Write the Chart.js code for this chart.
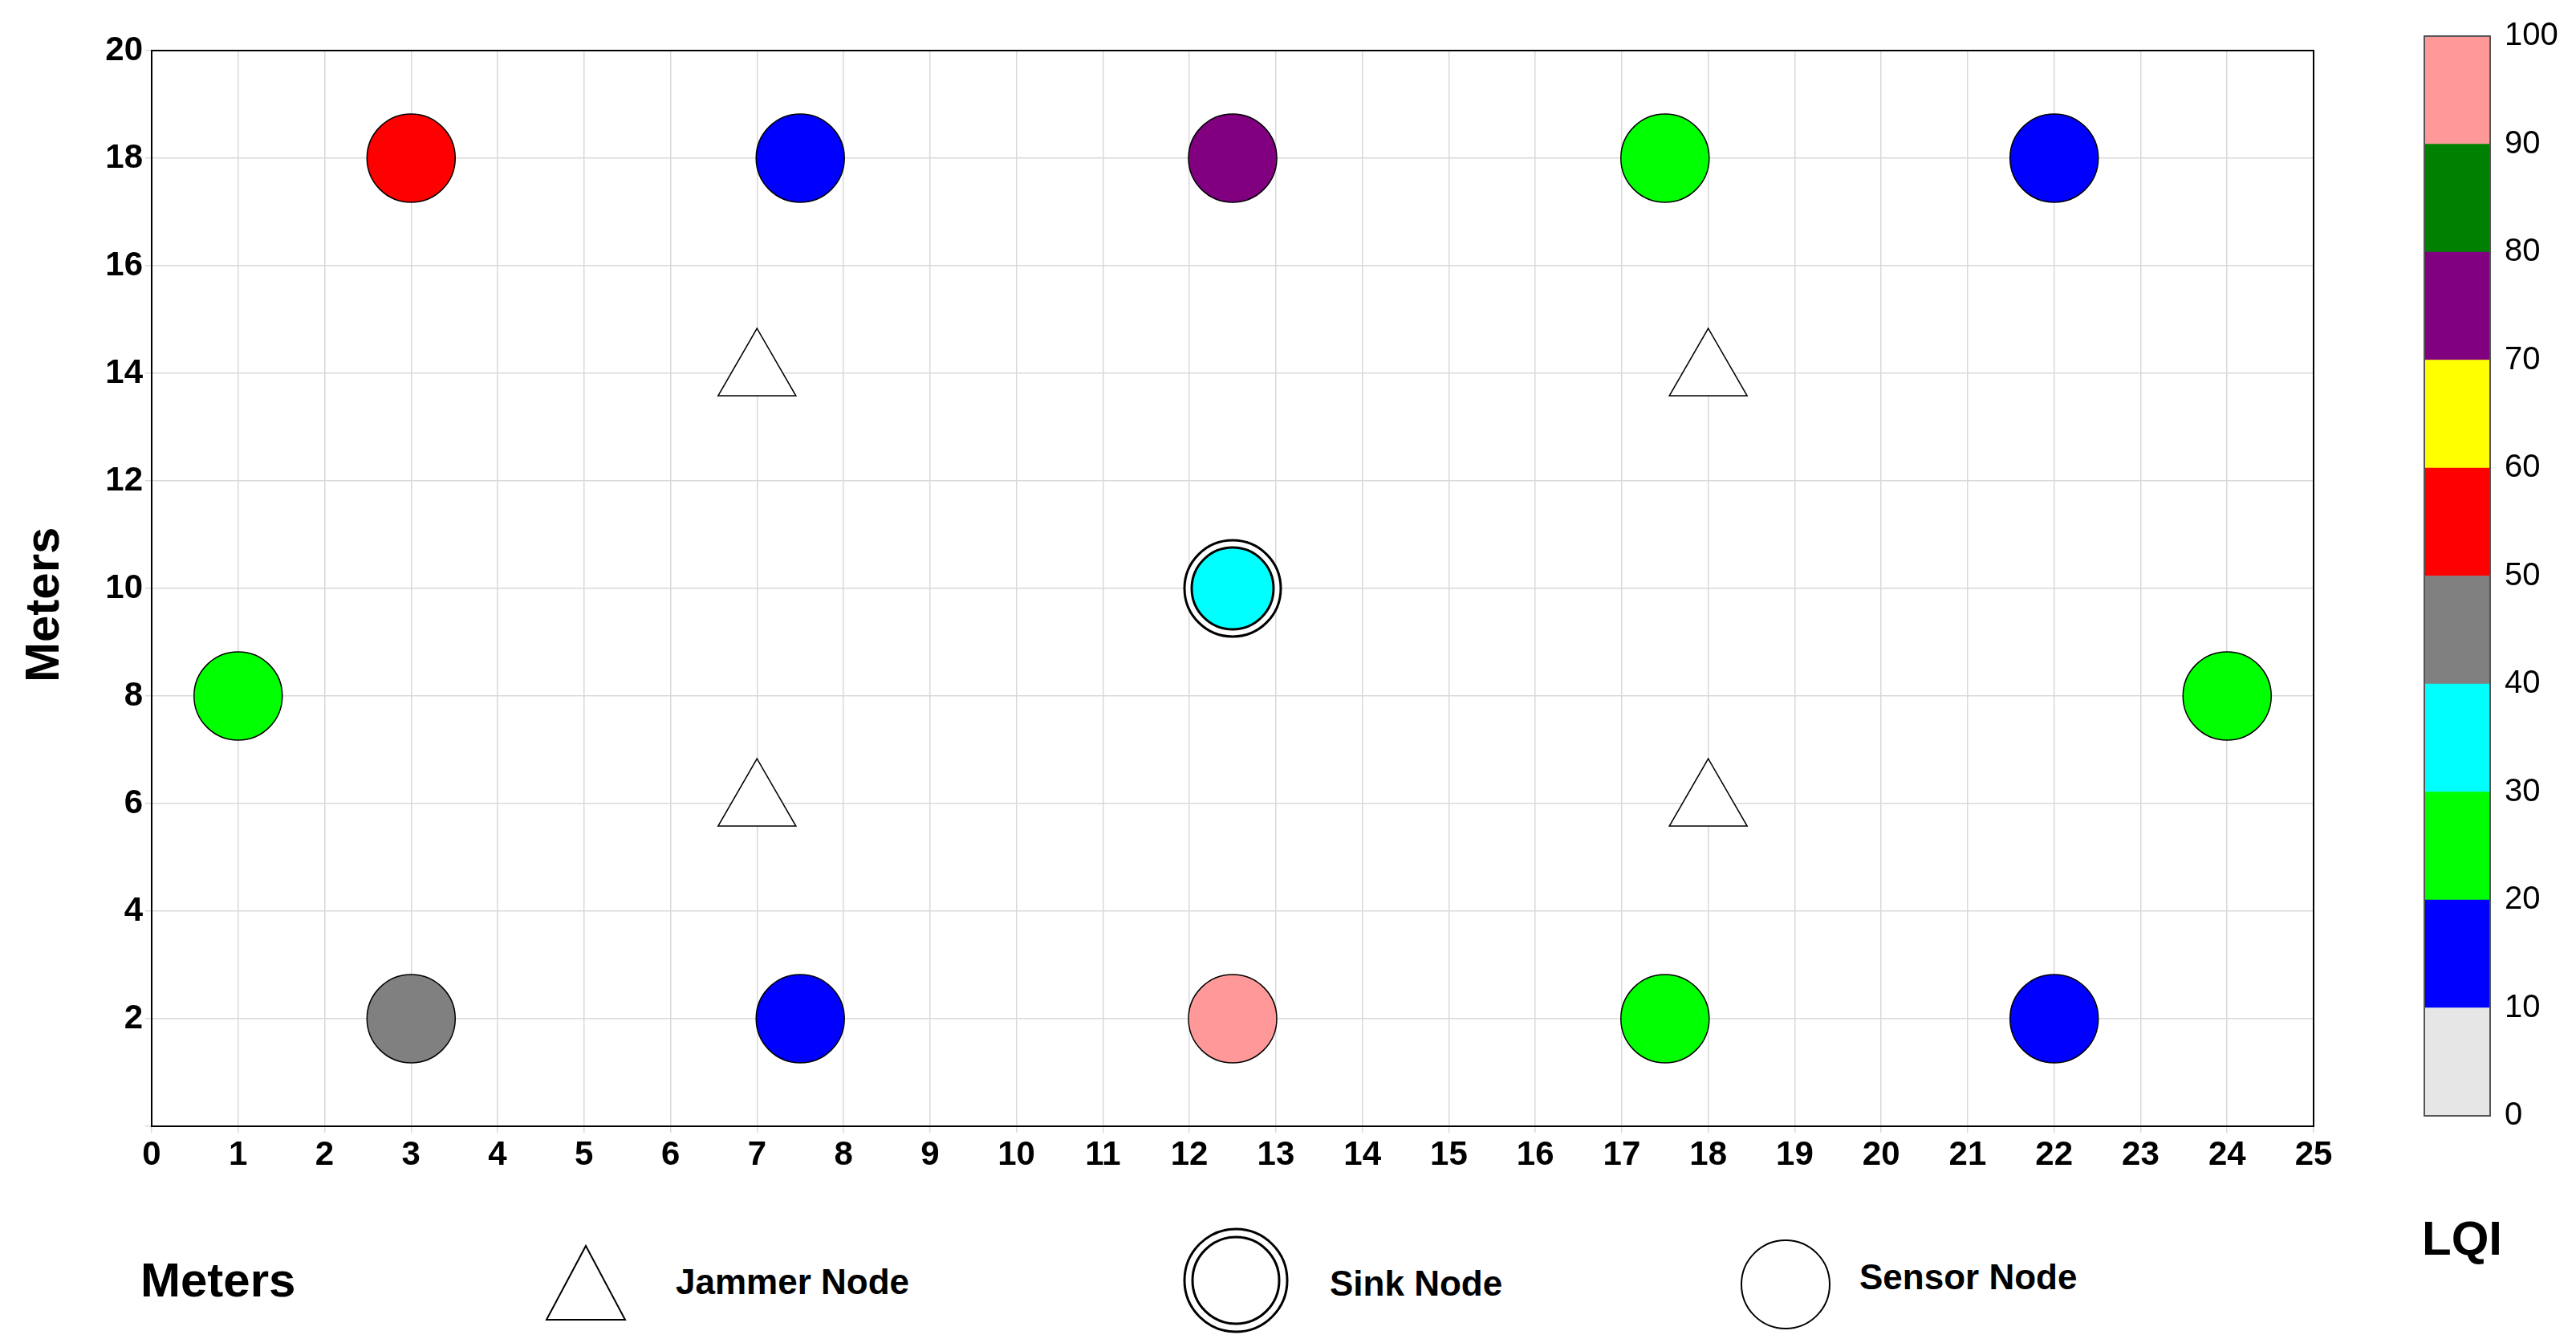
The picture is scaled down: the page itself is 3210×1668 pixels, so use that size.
<!DOCTYPE html>
<html>
<head>
<meta charset="utf-8">
<script src="https://cdn.jsdelivr.net/npm/chart.js@4/dist/chart.umd.min.js"></script>
<style>
  body { margin: 0; background: #fff; width: 3210px; height: 1668px; position: relative; overflow: hidden;
         font-family: "Liberation Sans", Arial, sans-serif; font-weight: bold; }
  .abs { position: absolute; }
  .lbl { font-size: 44px; color: #000; }
</style>
</head>
<body>
<div class="abs" style="left:0;top:0;width:2946px;height:1466px"><canvas id="main"></canvas></div>
<div class="abs" style="left:2990px;top:0;width:240px;height:1432px"><canvas id="bar"></canvas></div>

<div class="abs" style="left:18px;top:850px;font-size:60px;transform:rotate(-90deg);transform-origin:left top;">Meters</div>
<div class="abs" style="left:3018px;top:1508px;font-size:60px;">LQI</div>
<div class="abs" style="left:175px;top:1560px;font-size:60px;">Meters</div>

<svg class="abs" style="left:675px;top:1548px" width="110" height="100"><polygon points="55,4 104,96 6,96" fill="#fff" stroke="#000" stroke-width="2"/></svg>
<div class="abs lbl" style="left:842px;top:1572px">Jammer Node</div>
<svg class="abs" style="left:1470px;top:1525px" width="140" height="140"><circle cx="70" cy="70" r="64" fill="#fff" stroke="#000" stroke-width="3"/><circle cx="70" cy="70" r="54" fill="#fff" stroke="#000" stroke-width="3"/></svg>
<div class="abs lbl" style="left:1657px;top:1574px">Sink Node</div>
<svg class="abs" style="left:2165px;top:1540px" width="120" height="120"><circle cx="60" cy="60" r="55" fill="#fff" stroke="#000" stroke-width="2"/></svg>
<div class="abs lbl" style="left:2317px;top:1566px">Sensor Node</div>

<script>
// node data
const sensorX = [3, 7.5, 12.5, 17.5, 22, 1, 24, 3, 7.5, 12.5, 17.5, 22];
const sensorY = [18, 18, 18, 18, 18, 8, 8, 2, 2, 2, 2, 2];
const sensorColors = ['#ff0000', '#0000ff', '#800080', '#00ff00', '#0000ff', '#00ff00', '#00ff00',
                      '#808080', '#0000ff', '#ff9999', '#00ff00', '#0000ff'];
const sinkX = [12.5];
const sinkY = [10];
const sinkColor = '#00ffff';
const jammerX = [7, 18, 7, 18];
const jammerY = [14, 14, 6, 6];
// colorbar
const lqiBands = [0, 10, 20, 30, 40, 50, 60, 70, 80, 90];
const lqiColors = ['#e6e6e6', '#0000ff', '#00ff00', '#00ffff', '#808080', '#ff0000', '#ffff00', '#800080', '#008000', '#ff9999'];

const pts = (xs, ys) => xs.map((x, i) => ({ x: x, y: ys[i] }));
const tickFont = { family: 'Liberation Sans', size: 42, weight: 'bold' };

const frame = {
  id: 'frame',
  afterDraw(c) {
    const a = c.chartArea, ctx = c.ctx;
    ctx.save(); ctx.strokeStyle = '#000'; ctx.lineWidth = 2;
    ctx.strokeRect(a.left, a.top, a.right - a.left, a.bottom - a.top);
    ctx.restore();
  }
};

// dataset 0 is drawn on top
new Chart(document.getElementById('main'), {
  type: 'scatter',
  data: {
    datasets: [
      { data: pts(sensorX, sensorY), pointRadius: 55, backgroundColor: sensorColors, borderColor: '#000', borderWidth: 1.5 },
      { data: pts(sinkX, sinkY), pointRadius: 51, backgroundColor: sinkColor, borderColor: '#000', borderWidth: 3 },
      { data: pts(sinkX, sinkY), pointRadius: 60, backgroundColor: '#fff', borderColor: '#000', borderWidth: 3 },
      { data: pts(jammerX, jammerY), pointStyle: 'triangle', pointRadius: 56, backgroundColor: '#fff', borderColor: '#000', borderWidth: 1.5 }
    ]
  },
  options: {
    responsive: true, maintainAspectRatio: false, animation: false,
    layout: { padding: { top: 20, right: 40, bottom: 0, left: 0 } },
    plugins: { legend: { display: false }, tooltip: { enabled: false } },
    scales: {
      x: {
        min: 0, max: 25,
        ticks: { stepSize: 1, color: '#000', font: tickFont, maxRotation: 0, autoSkip: false },
        grid: { color: '#d9d9d9', lineWidth: 1.5 },
        border: { color: '#000', width: 2 },
        afterFit(s) { s.height = 60; }
      },
      y: {
        min: 0, max: 20,
        ticks: { stepSize: 2, color: '#000', font: tickFont, callback: v => v === 0 ? '' : v },
        grid: { color: '#d9d9d9', lineWidth: 1.5 },
        border: { color: '#000', width: 2 },
        afterFit(s) { s.width = 189; }
      }
    }
  },
  plugins: [frame]
});

new Chart(document.getElementById('bar'), {
  type: 'bar',
  data: {
    labels: ['LQI'],
    datasets: lqiBands.map((b, i) => ({ data: [10], backgroundColor: lqiColors[i], barPercentage: 1, categoryPercentage: 1 }))
  },
  options: {
    responsive: true, maintainAspectRatio: false, animation: false,
    layout: { padding: { top: 45, right: 0, bottom: 12, left: 31 } },
    plugins: { legend: { display: false }, tooltip: { enabled: false } },
    scales: {
      x: { stacked: true, display: false },
      y: {
        stacked: true, position: 'right', min: 0, max: 100,
        ticks: { stepSize: 10, padding: 18, color: '#000', font: { family: 'Liberation Sans', size: 40 } },
        grid: { display: false, drawTicks: false },
        border: { color: '#555', width: 2 },
        afterFit(s) { s.width = 127; }
      }
    }
  },
  plugins: [{
    id: 'box',
    afterDraw(c) {
      const a = c.chartArea, ctx = c.ctx;
      ctx.save(); ctx.strokeStyle = '#555'; ctx.lineWidth = 2;
      ctx.strokeRect(a.left, a.top, a.right - a.left, a.bottom - a.top);
      ctx.restore();
    }
  }]
});
</script>
</body>
</html>
